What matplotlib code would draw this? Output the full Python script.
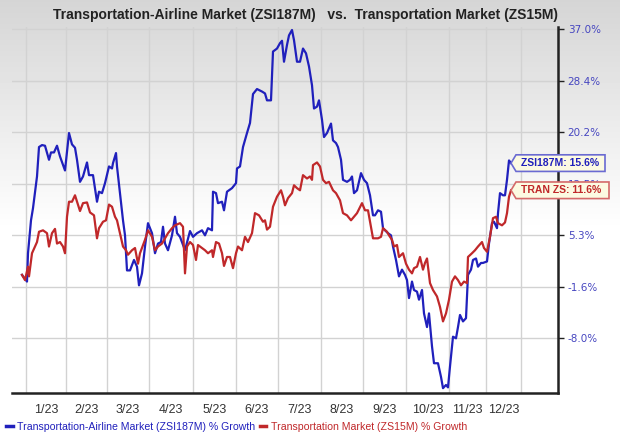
import numpy as np
import matplotlib
matplotlib.use("Agg")
import matplotlib.pyplot as plt
from matplotlib.lines import Line2D
from matplotlib.patches import Polygon
from matplotlib.transforms import IdentityTransform

title = "Transportation-Airline Market (ZSI187M)   vs.  Transportation Market (ZS15M)"
month_labels = ["1/23", "2/23", "3/23", "4/23", "5/23", "6/23",
                "7/23", "8/23", "9/23", "10/23", "11/23", "12/23"]
month_edges = [4, 44, 85, 127, 171, 214, 256, 299, 341, 384, 427, 464, 499]
y_ticks = [-8.0, -1.6, 5.3, 12.5, 20.2, 28.4, 37.0]

airline_name = "Transportation-Airline Market (ZSI187M) % Growth"
market_name = "Transportation Market (ZS15M) % Growth"

airline_day = [0, 5, 6, 9, 11, 15, 17, 20, 23, 27,
               29, 32, 35, 38, 43, 47, 50, 53, 55, 58,
               61, 65, 67, 71, 73, 75, 77, 80, 83, 87,
               90, 91, 94, 95, 98, 101, 103, 105, 108, 112,
               115, 117, 120, 123, 126, 130, 133, 136, 139, 141,
               143, 146, 150, 153, 155, 158, 163, 168, 171, 175,
               180, 183, 186, 190, 191, 194, 196, 200, 202, 205,
               210, 214, 215, 218, 221, 225, 228, 231, 235, 240,
               243, 245, 249, 251, 255, 258, 260, 262, 265, 267,
               270, 272, 275, 278, 281, 284, 287, 290, 292, 295,
               297, 300, 302, 305, 309, 311, 314, 316, 319, 321,
               325, 328, 330, 332, 335, 339, 342, 345, 348, 351,
               353, 356, 359, 361, 363, 366, 369, 371, 374, 377,
               380, 383, 385, 387, 390, 392, 395, 397, 400, 402,
               405, 407, 410, 412, 416, 419, 421, 424, 426, 428,
               431, 434, 436, 438, 441, 444, 446, 449, 451, 454,
               456, 459, 461, 465, 467, 470, 472, 475, 476, 478,
               481, 483, 485, 487, 489]
airline_growth = [0.0, -0.9, 2.9, 7.4, 9.1, 13.6, 18.0, 18.3, 18.2, 16.1,
                  17.2, 17.2, 18.2, 16.6, 14.5, 20.1, 18.4, 17.9, 16.1, 12.8,
                  13.6, 15.7, 13.8, 13.8, 11.9, 10.0, 11.4, 11.2, 12.6, 15.1,
                  14.8, 15.6, 17.1, 15.1, 11.2, 7.4, 5.3, 0.6, 0.6, 2.0,
                  1.1, -1.4, 0.2, 3.8, 7.0, 5.6, 2.9, 4.2, 4.4, 6.5,
                  4.2, 3.3, 5.3, 7.9, 5.6, 5.1, 3.3, 5.9, 5.1, 5.6,
                  6.0, 5.3, 6.3, 6.0, 11.4, 11.2, 9.8, 10.0, 8.8, 11.4,
                  11.9, 12.6, 14.8, 15.1, 18.0, 20.1, 21.7, 26.3, 27.1, 26.7,
                  26.4, 25.3, 25.3, 33.3, 33.8, 34.7, 35.1, 31.6, 34.4, 36.0,
                  36.9, 35.2, 31.6, 31.6, 33.8, 33.0, 30.8, 27.7, 24.0, 24.3,
                  25.3, 22.2, 19.5, 20.1, 21.6, 19.0, 18.6, 18.0, 16.1, 13.1,
                  12.8, 13.1, 13.6, 11.2, 11.6, 14.1, 13.1, 12.6, 10.9, 8.1,
                  8.1, 8.8, 8.6, 6.3, 6.0, 5.6, 5.3, 3.8, 2.0, -0.2,
                  0.7, 0.0, -0.7, -3.0, -0.9, -2.0, -2.2, -3.2, -2.0, -4.9,
                  -6.6, -4.9, -9.0, -11.1, -11.1, -12.8, -14.2, -13.8, -14.1, -11.5,
                  -7.8, -8.0, -6.6, -5.1, -5.9, -5.5, 0.0, 0.7, 2.0, 2.2,
                  1.1, 1.6, 1.6, 1.8, 4.2, 7.0, 7.2, 6.3, 8.4, 11.2,
                  10.9, 10.9, 13.1, 16.0, 15.6]

market_day = [0, 3, 6, 7, 10, 13, 15, 17, 21, 25,
              27, 30, 33, 35, 38, 41, 43, 45, 47, 50,
              53, 55, 58, 61, 65, 68, 72, 75, 77, 81,
              84, 87, 90, 93, 95, 98, 101, 104, 106, 110,
              113, 116, 118, 123, 126, 130, 133, 136, 140, 143,
              146, 150, 153, 158, 161, 163, 165, 168, 171, 174,
              176, 180, 183, 186, 190, 191, 194, 197, 200, 202,
              205, 208, 211, 214, 216, 220, 223, 226, 230, 233,
              237, 241, 243, 245, 248, 251, 255, 259, 261, 263,
              266, 270, 272, 275, 278, 281, 285, 288, 290, 291,
              295, 298, 301, 304, 307, 311, 314, 318, 321, 325,
              329, 332, 335, 340, 343, 346, 349, 351, 356, 359,
              361, 365, 367, 370, 372, 375, 377, 381, 384, 387,
              390, 392, 395, 398, 401, 403, 405, 408, 411, 415,
              418, 421, 424, 427, 430, 433, 436, 439, 442, 445,
              446, 450, 453, 456, 460, 462, 465, 468, 471, 474,
              476, 480, 483, 485, 487, 489]
market_growth = [0.0, -0.7, 1.1, -0.2, 2.9, 3.8, 4.4, 5.8, 6.0, 5.6,
                 3.8, 5.6, 6.2, 4.2, 4.4, 3.8, 2.9, 7.9, 10.0, 10.0,
                 10.9, 10.0, 8.7, 9.8, 9.9, 8.5, 8.1, 4.9, 6.3, 7.2,
                 7.4, 9.6, 9.3, 7.9, 7.4, 5.6, 3.8, 3.3, 2.7, 3.3,
                 3.6, 1.5, 2.9, 4.7, 6.0, 5.1, 3.3, 3.8, 4.2, 4.9,
                 5.6, 6.3, 6.7, 7.0, 6.5, 0.2, 3.8, 4.4, 4.0, 2.0,
                 4.0, 3.6, 3.3, 2.9, 3.3, 2.4, 4.4, 4.2, 2.9, 1.2,
                 2.4, 2.4, 0.9, 2.9, 3.8, 3.3, 5.1, 4.4, 5.6, 8.4,
                 8.1, 7.2, 7.4, 6.1, 6.5, 9.3, 10.7, 11.6, 10.7, 9.5,
                 10.5, 11.2, 12.3, 11.9, 11.6, 13.8, 13.3, 13.6, 13.1, 15.3,
                 15.7, 15.1, 13.1, 12.6, 12.8, 11.6, 11.2, 10.2, 8.4, 8.1,
                 7.4, 7.9, 8.4, 9.8, 8.8, 8.8, 6.5, 4.9, 4.9, 5.1,
                 6.3, 5.8, 5.3, 4.7, 3.8, 4.0, 2.4, 2.9, 1.5, 0.7,
                 0.2, 0.9, 1.1, 2.4, 0.7, 1.6, 2.2, -1.1, -2.0, -2.8,
                 -4.1, -5.9, -4.9, -3.2, -0.9, -0.2, -0.7, -1.4, -0.9, -1.1,
                 2.4, 2.9, 3.3, 3.8, 4.4, 3.6, 3.1, 5.1, 7.7, 7.9,
                 7.0, 6.7, 7.1, 8.4, 10.7, 11.6]

blue = "#2020bc"
red = "#c0282a"

tick_pos = np.arange(len(y_ticks), dtype=float)


def to_axis(v):
    v = np.asarray(v, dtype=float)
    lo = (v - y_ticks[0]) / (y_ticks[1] - y_ticks[0])
    hi = tick_pos[-1] + (v - y_ticks[-1]) / (y_ticks[-1] - y_ticks[-2])
    mid = np.interp(v, y_ticks, tick_pos)
    return np.where(v < y_ticks[0], lo, np.where(v > y_ticks[-1], hi, mid))


def from_axis(p):
    p = np.asarray(p, dtype=float)
    lo = y_ticks[0] + p * (y_ticks[1] - y_ticks[0])
    hi = y_ticks[-1] + (p - tick_pos[-1]) * (y_ticks[-1] - y_ticks[-2])
    mid = np.interp(p, tick_pos, y_ticks)
    return np.where(p < 0, lo, np.where(p > tick_pos[-1], hi, mid))


plt.rcParams["font.family"] = ["Liberation Sans", "DejaVu Sans"]

fig = plt.figure(figsize=(6.2, 4.34), dpi=100)

# grey-to-white background
bg = fig.add_axes([0, 0, 1, 1], zorder=-10)
shade = np.clip(0.835 + 0.165 * np.linspace(0, 1, 434) / 0.53, 0, 1)
bg.imshow(shade[:, None], cmap="gray", vmin=0, vmax=1, aspect="auto",
          extent=[0, 1, 0, 1])
bg.axis("off")

ax = fig.add_axes([12 / 620, 41 / 434, 546 / 620, 366 / 434])
ax.set_facecolor("none")
ax.set_yscale("function", functions=(to_axis, from_axis))

ax.plot(airline_day, airline_growth, color=blue, lw=1.6, zorder=3)
ax.plot(market_day, market_growth, color=red, lw=1.6, zorder=3)

ax.set_xlim(-10, 536)
ax.set_ylim(-14.8, 37.4)

ax.set_xticks(month_edges)
ax.set_xticklabels([])
mids = [(a + b) / 2 for a, b in zip(month_edges[:-1], month_edges[1:])]
ax.set_xticks(mids, minor=True)
ax.set_xticklabels(month_labels, minor=True)
ax.tick_params(axis="x", which="both", length=0)
ax.tick_params(axis="x", which="minor", pad=8, labelsize=9, labelcolor="#333333")

ax.yaxis.tick_right()
ax.set_yticks(y_ticks)
ax.set_yticklabels([f"{v:.1f}%" for v in y_ticks])
ax.yaxis.set_minor_locator(matplotlib.ticker.NullLocator())
ax.tick_params(axis="y", direction="out", length=4, width=1, color="#222222",
               pad=3, labelsize=7.5, labelcolor="#4646c0")
for lab in ax.get_yticklabels():
    lab.set_family("DejaVu Sans")

ax.grid(True, which="major", color="#d2d2d2", lw=1.0)
ax.set_axisbelow(True)
for side in ["left", "top"]:
    ax.spines[side].set_visible(False)
for side in ["right", "bottom"]:
    ax.spines[side].set_color("#222222")
    ax.spines[side].set_linewidth(1.8)

fig.text(305.5 / 620, 1 - 15 / 434, title, ha="center", va="center",
         fontsize=10, fontweight="bold", color="#222222")

# end-of-line value tags
fig.canvas.draw()
tags = [(airline_day[-1], airline_growth[-1], f"ZSI187M: {airline_growth[-1]:.1f}%", blue, "#6a6ad2", 89),
        (market_day[-1], market_growth[-1], f"TRAN ZS: {market_growth[-1]:.1f}%", red, "#d46a6a", 93)]
for d, g, txt, tcol, ecol, w in tags:
    xd, yd = ax.transData.transform((d, g))
    h = 8.3
    verts = [(xd, yd), (xd + 5, yd + h), (xd + 5 + w, yd + h),
             (xd + 5 + w, yd - h), (xd + 5, yd - h)]
    ax.add_patch(Polygon(verts, closed=True, facecolor="#fcfae2", edgecolor=ecol,
                         lw=1.2, transform=IdentityTransform(), clip_on=False, zorder=6))
    ax.text(xd + 10, yd, txt, transform=IdentityTransform(), ha="left", va="center",
            fontsize=7.5, fontweight="bold", color=tcol, zorder=7, clip_on=False)

handles = [Line2D([], [], color=blue, lw=2.5), Line2D([], [], color=red, lw=2.5)]
fig.legend(handles, [airline_name, market_name], loc="center left",
           bbox_to_anchor=(0.01, 0.016), ncol=2, frameon=False, fontsize=7.6,
           handlelength=0.6, handletextpad=0.4, columnspacing=0.5,
           borderaxespad=0, borderpad=0, labelcolor=[blue, red])

fig.savefig("out.png", dpi=100)
